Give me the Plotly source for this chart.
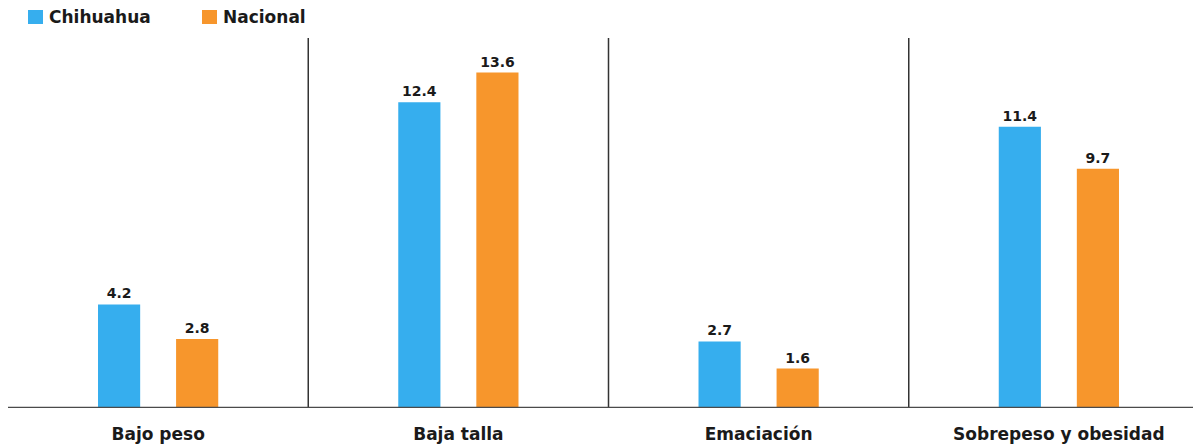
import plotly.graph_objects as go

categories = ["Bajo peso", "Baja talla", "Emaciación", "Sobrepeso y obesidad"]
chihuahua = [4.2, 12.4, 2.7, 11.4]
nacional = [2.8, 13.6, 1.6, 9.7]
series_names = ["Chihuahua", "Nacional"]

BLUE = "#36AEEE"
ORANGE = "#F7962C"
FONT = "DejaVu Sans"
TXT = "#1a1a1a"

W, H = 1201, 448
ML, MR, MT, MB = 0, 0, 30, 48
PW, PH = W - ML - MR, H - MT - MB


def px(fx):
    return (fx - ML) / PW


def py(fy):
    return (H - MB - fy) / PH


fig = go.Figure()
for name, vals, col in [(series_names[0], chihuahua, BLUE), (series_names[1], nacional, ORANGE)]:
    fig.add_trace(go.Bar(
        x=categories, y=vals, name=name, marker=dict(color=col, line=dict(width=0)),
        text=[f"{v:.1f}" for v in vals], textposition="outside",
        textfont=dict(family=FONT, size=14, color=TXT, weight="bold"),
        cliponaxis=False, showlegend=False,
    ))

shapes = []
for i in range(1, len(categories)):
    shapes.append(dict(type="line", xref="x", yref="paper", x0=i - 0.5, x1=i - 0.5, y0=0, y1=1,
                       line=dict(color="#333333", width=1.5)))
shapes.append(dict(type="line", xref="paper", yref="y", x0=0, x1=1, y0=0, y1=0,
                   line=dict(color="#4a4a4a", width=2.5)))

# manual legend
annotations = []
legend_items = [(series_names[0], BLUE, 20), (series_names[1], ORANGE, 194)]
for name, col, x0 in legend_items:
    shapes.append(dict(type="rect", xref="paper", yref="paper",
                       x0=px(x0), x1=px(x0 + 15), y0=py(16), y1=py(2),
                       fillcolor=col, line=dict(width=0)))
    annotations.append(dict(xref="paper", yref="paper", x=px(x0 + 19), y=py(9),
                            xanchor="left", yanchor="middle", showarrow=False, text=name,
                            font=dict(family=FONT, size=17, color=TXT, weight="bold")))

fig.update_layout(
    width=W, height=H,
    margin=dict(l=ML, r=MR, t=MT, b=MB, autoexpand=False),
    paper_bgcolor="white", plot_bgcolor="white",
    barmode="group", bargap=0.48, bargroupgap=0.46,
    font=dict(family=FONT, color=TXT),
    showlegend=False,
    xaxis=dict(showgrid=False, showline=False, ticks="", range=[-0.5, 3.5],
               ticklabelstandoff=14,
               tickfont=dict(family=FONT, size=17, color=TXT, weight="bold")),
    yaxis=dict(range=[0, 15], showgrid=False, showticklabels=False, zeroline=False, showline=False),
    shapes=shapes,
    annotations=annotations,
)

fig.write_html("out.html")
